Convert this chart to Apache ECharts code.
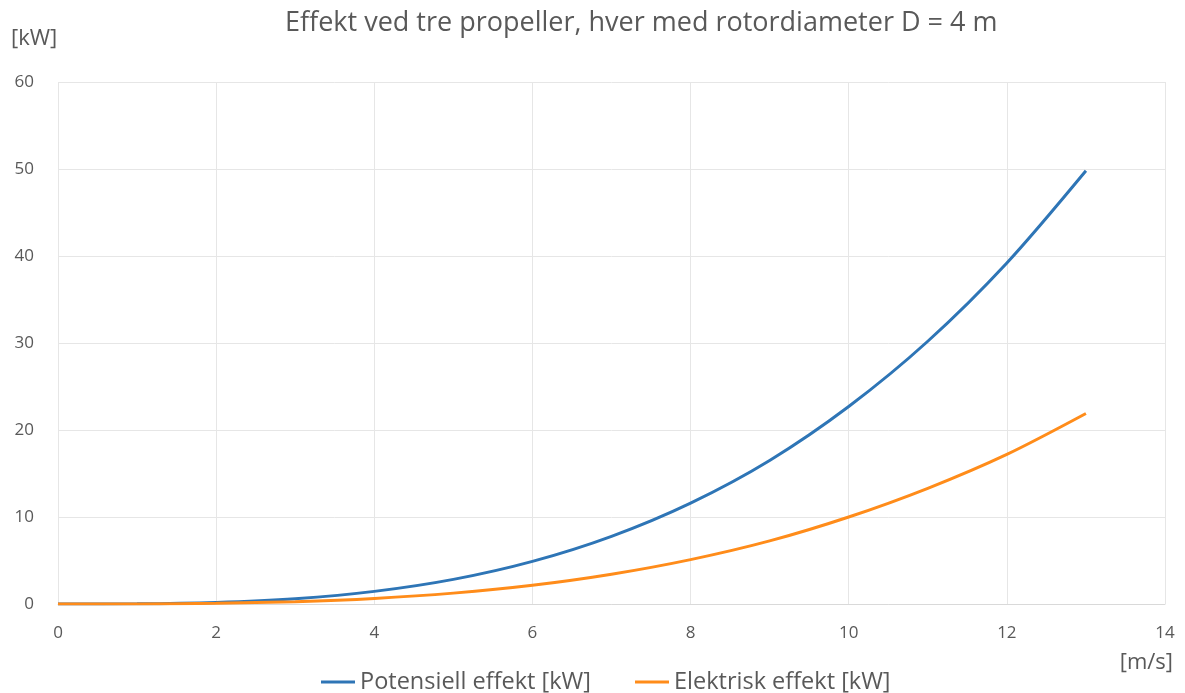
<!DOCTYPE html>
<html>
<head>
<meta charset="utf-8">
<script src="https://cdn.jsdelivr.net/npm/echarts@6/dist/echarts.min.js"></script>
<style>
  html, body { margin: 0; padding: 0; background: #fff; }
  #chart { width: 1185px; height: 693px; }
</style>
</head>
<body>
<div id="chart"></div>
<script>
// Wind speed [m/s]
const windSpeed = [0, 1, 2, 3, 4, 5, 6, 7, 8, 9, 10, 11, 12, 13];
// Potential power for three rotors [kW]
const potentialPower = [0, 0.02, 0.18, 0.61, 1.45, 2.83, 4.9, 7.78, 11.6, 16.5, 22.7, 30.2, 39.2, 49.8];
// Electrical power output [kW]
const electricPower = [0, 0.01, 0.08, 0.27, 0.64, 1.25, 2.15, 3.42, 5.1, 7.25, 10.0, 13.3, 17.2, 21.9];

const seriesNames = ['Potensiell effekt [kW]', 'Elektrisk effekt [kW]'];
const textColor = '#595959';
const fontFamily = '"Open Sans", "Noto Sans", sans-serif';

const chart = echarts.init(document.getElementById('chart'));
chart.setOption({
  animation: false,
  title: {
    text: 'Effekt ved tre propeller, hver med rotordiameter D = 4 m',
    left: 280,
    top: 5,
    textStyle: { color: textColor, fontSize: 27, fontWeight: 'normal', fontFamily }
  },
  legend: {
    top: 665,
    left: 316,
    itemWidth: 34,
    itemHeight: 3,
    itemGap: 44,
    icon: 'rect',
    textStyle: { color: textColor, fontSize: 23.5, fontFamily }
  },
  grid: { left: 58, right: 20, top: 82, bottom: 89, containLabel: false },
  xAxis: {
    type: 'value',
    min: 0, max: 14, interval: 2,
    axisLine: { show: true, lineStyle: { color: '#d9d9d9', width: 1 } },
    axisTick: { show: false },
    splitLine: { show: true, lineStyle: { color: '#e6e6e6', width: 1 } },
    axisLabel: { color: textColor, fontSize: 17, margin: 21, fontFamily }
  },
  yAxis: {
    type: 'value',
    min: 0, max: 60, interval: 10,
    axisLine: { show: false },
    axisTick: { show: false },
    splitLine: { show: true, lineStyle: { color: '#e6e6e6', width: 1 } },
    axisLabel: { color: textColor, fontSize: 17, margin: 24, fontFamily }
  },
  graphic: [
    {
      type: 'text',
      left: 11,
      top: 28,
      style: { text: '[kW]', fill: textColor, fontSize: 22, fontFamily }
    },
    {
      type: 'text',
      right: 12,
      top: 652,
      style: { text: '[m/s]', fill: textColor, fontSize: 22, fontFamily }
    }
  ],
  series: [
    {
      name: seriesNames[0],
      type: 'line',
      smooth: 0.3,
      showSymbol: false,
      data: windSpeed.map((v, i) => [v, potentialPower[i]]),
      lineStyle: { color: '#2E75B6', width: 3 },
      itemStyle: { color: '#2E75B6' }
    },
    {
      name: seriesNames[1],
      type: 'line',
      smooth: 0.3,
      showSymbol: false,
      data: windSpeed.map((v, i) => [v, electricPower[i]]),
      lineStyle: { color: '#FF8C1A', width: 3 },
      itemStyle: { color: '#FF8C1A' }
    }
  ]
});
</script>
</body>
</html>
